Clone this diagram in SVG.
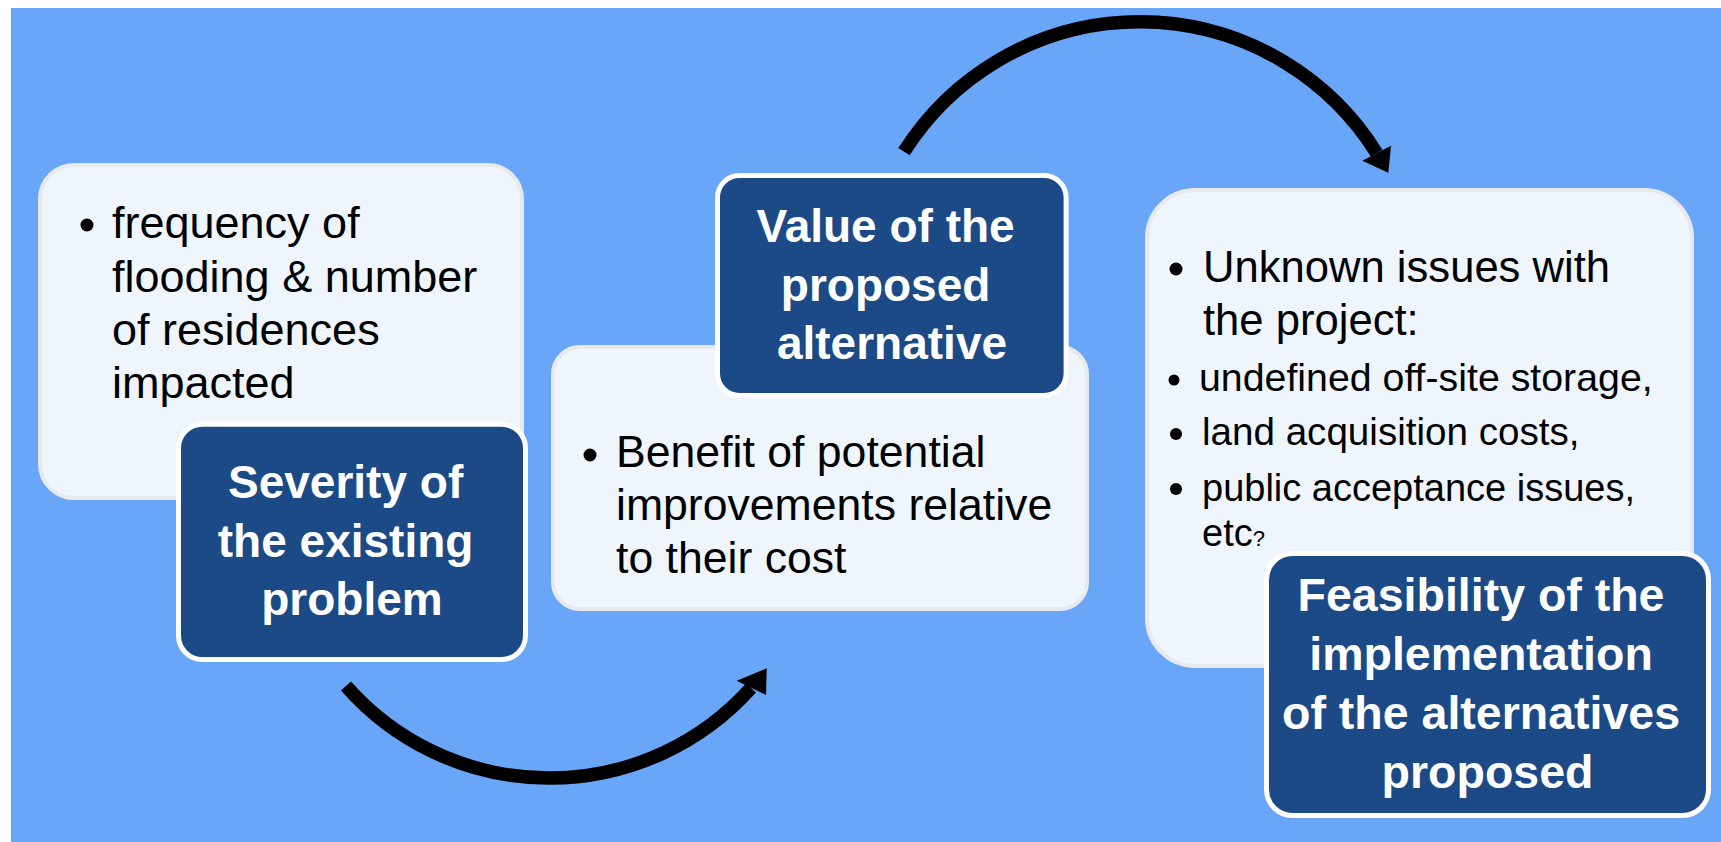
<svg xmlns="http://www.w3.org/2000/svg" width="1721" height="842" viewBox="0 0 1721 842">
<style>
.bg{fill:#69A6F7}
.light{fill:#EEF5FD;stroke:#E8E9EC;stroke-width:4}
.dark{fill:#1B4A87;stroke:#FFFFFF;stroke-width:5}
.body{font-family:"Liberation Sans",Arial,sans-serif;fill:#000000}
.title{font-family:"Liberation Sans",Arial,sans-serif;font-weight:bold;fill:#FFFFFF;text-anchor:middle;font-size:46px}
.arc{fill:none;stroke:#000000;stroke-width:13.5;stroke-linecap:butt}
.head{fill:#000000}
</style>
<rect x="0" y="0" width="1721" height="842" fill="#FFFFFF"/>
<rect class="bg" x="11" y="8" width="1710" height="834"/>

<g id="step1">
  <rect class="light" x="40" y="165" width="482" height="333" rx="34" ry="34"/>
  <circle cx="87" cy="225" r="6.5"/>
  <text class="body" font-size="45" x="112">
    <tspan x="112" y="238">frequency of</tspan>
    <tspan x="112" y="291.5">flooding &amp; number</tspan>
    <tspan x="112" y="344.5">of residences</tspan>
    <tspan x="112" y="397.5">impacted</tspan>
  </text>
</g>
<g id="severity">
  <rect class="dark" x="178.5" y="424.2" width="347" height="235.3" rx="24" ry="24"/>
  <text class="title">
    <tspan x="352" y="498">Severity of</tspan>
    <tspan x="352" y="557">the existing</tspan>
    <tspan x="352" y="615">problem</tspan>
  </text>
</g>

<g id="step2">
  <rect class="light" x="553" y="347" width="534" height="262" rx="27" ry="27"/>
  <circle cx="590" cy="455" r="6.5"/>
  <text class="body" font-size="44.6">
    <tspan x="616" y="467">Benefit of potential</tspan>
    <tspan x="616" y="520">improvements relative</tspan>
    <tspan x="616" y="573">to their cost</tspan>
  </text>
</g>
<g id="value">
  <rect class="dark" x="717.5" y="175.5" width="348.6" height="220" rx="22" ry="22"/>
  <text class="title">
    <tspan x="892" y="242">Value of the</tspan>
    <tspan x="892" y="300.5">proposed</tspan>
    <tspan x="892" y="359">alternative</tspan>
  </text>
</g>

<g id="step3">
  <rect class="light" x="1147" y="190" width="545" height="476" rx="48" ry="48"/>
  <circle cx="1176" cy="269" r="6.5"/>
  <text class="body" font-size="43.6">
    <tspan x="1203" y="282">Unknown issues with</tspan>
    <tspan x="1203" y="335">the project:</tspan>
  </text>
  <circle cx="1174" cy="380" r="5.5"/>
  <text class="body" font-size="39.3" x="1199" y="390.5">undefined off-site storage,</text>
  <circle cx="1176" cy="434" r="6"/>
  <text class="body" font-size="38.6" x="1202" y="445">land acquisition costs,</text>
  <circle cx="1176" cy="489" r="6"/>
  <text class="body" font-size="38" x="1202" y="501">public acceptance issues,</text>
  <text class="body" font-size="38" x="1202" y="546">etc<tspan font-size="22">?</tspan></text>
</g>
<g id="feasibility">
  <rect class="dark" x="1266.5" y="553.5" width="442" height="262" rx="26" ry="26"/>
  <text class="title" font-size="46.5" style="font-size:46.5px">
    <tspan x="1487.5" y="611">Feasibility of the</tspan>
    <tspan x="1487.5" y="670">implementation</tspan>
    <tspan x="1487.5" y="729">of the alternatives</tspan>
    <tspan x="1487.5" y="788">proposed</tspan>
  </text>
</g>

<g id="connectors">
  <path class="arc" d="M346,686 A270.7,270.7 0 0 0 751,688"/>
  <polygon class="head" points="766.7,668.3 736.7,680.7 766,695"/>
  <path class="arc" d="M904,151.7 A279.1,279.1 0 0 1 1376.7,153.2"/>
  <polygon class="head" points="1388.3,172.7 1362.3,160.7 1391,145.7"/>
</g>
</svg>
